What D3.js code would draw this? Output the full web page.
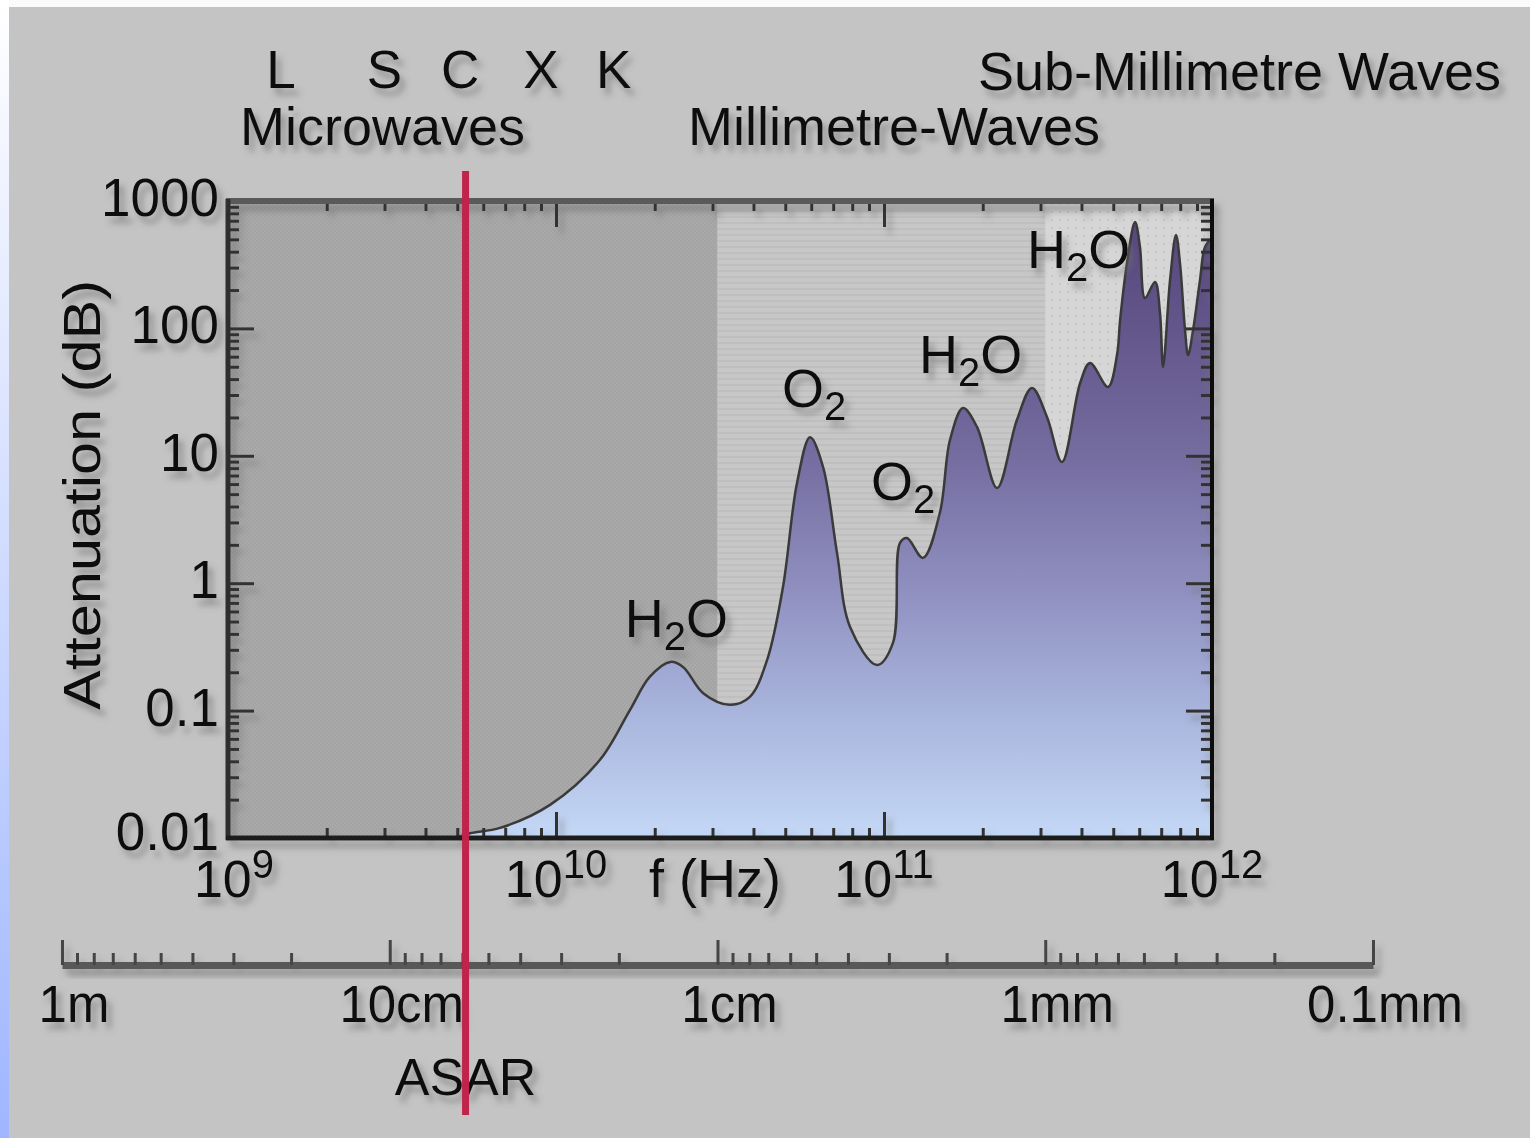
<!DOCTYPE html>
<html>
<head>
<meta charset="utf-8">
<script src="https://cdn.jsdelivr.net/npm/d3@7"></script>
<style>
body { margin: 0; background: #fff; }
svg { display: block; font-family: "Liberation Sans", Arial, sans-serif; }
</style>
</head>
<body>
<div id="chart"></div>
<script>
// attenuation curve (frequency in GHz, attenuation in dB)
var freqGHz = [5.0, 5.47, 6.75, 9.59, 13.6, 16.8, 19.3, 22.3, 24.4, 28.1, 33.9, 39.0, 44.0, 49.2,
  54.3, 59.5, 65.2, 71.9, 78.8, 95.2, 106.5, 111.9, 117.5, 131.5, 148.2, 158.9, 174.2, 192.2,
  221.2, 254.2, 282.6, 314.0, 348.9, 396.3, 424.7, 482.0, 513.3, 524.6, 550.6, 582.6, 603.1,
  624.7, 670.2, 694.2, 709.3, 745.0, 776.6, 798.6, 827.6, 845.5, 875.6, 919.3, 952.1, 1000];
var attenDB = [0.0101, 0.0109, 0.0120, 0.0182, 0.0409, 0.101, 0.184, 0.241, 0.220, 0.137, 0.111, 0.128, 0.249, 0.933,
  6.12, 14.0, 8.17, 1.73, 0.453, 0.228, 0.340, 2.07, 2.26, 1.58, 3.62, 13.3, 23.7, 16.8,
  5.59, 19.1, 34.1, 20.2, 8.94, 37.3, 53.5, 34.7, 61.8, 116, 326, 684, 435,
  173, 231, 132, 49.8, 240, 541, 326, 97.1, 61.8, 97.1, 240, 435, 513];

var yTickValues = [1000, 100, 10, 1, 0.1, 0.01];
var yTickLabels = ["1000", "100", "10", "1", "0.1", "0.01"];
var xDecades = [9, 10, 11, 12];
var wavelengthValues = [1, 0.1, 0.01, 0.001, 0.0001];   // metres
var wavelengthLabels = ["1m", "10cm", "1cm", "1mm", "0.1mm"];
var bandLetters = ["L", "S", "C", "X", "K"];
var bandFreqGHz = [1.45, 3.0, 5.1, 9.0, 15.0];
var asarGHz = 5.3;

// molecule labels: text, subscript, tail, anchor frequency (GHz), anchor dB
var molText = ["H", "O", "O", "H", "H"];
var molSub = ["2", "2", "2", "2", "2"];
var molTail = ["O", "", "", "O", "O"];
var molGHz = [16.2, 48.9, 91.3, 127.9, 272.9];
var molDB = [0.378, 24.2, 4.50, 44.7, 298];

var width = 1530, height = 1138;
var plot = {left: 228, right: 1212, top: 201, bottom: 838};

var x = d3.scaleLog().domain([1e9, 1e12]).range([plot.left, plot.right]);
var y = d3.scaleLog().domain([0.01, 1000]).range([plot.bottom, plot.top]);
var wl = d3.scaleLog().domain([1, 1e-4]).range([62, 1373]);

function isDecade(v) {
  var l = Math.log10(v);
  return Math.abs(l - Math.round(l)) < 1e-6;
}

var svg = d3.select("#chart").append("svg")
    .attr("width", width)
    .attr("height", height);

var defs = svg.append("defs");

var shadow = defs.append("filter").attr("id", "shadow")
    .attr("x", "-20%").attr("y", "-30%").attr("width", "150%").attr("height", "180%");
shadow.append("feDropShadow")
    .attr("dx", 5).attr("dy", 7).attr("stdDeviation", 3)
    .attr("flood-color", "#707070").attr("flood-opacity", 0.6);

var edge = defs.append("linearGradient").attr("id", "edge")
    .attr("x1", 0).attr("y1", 0).attr("x2", 0).attr("y2", 1);
edge.append("stop").attr("offset", 0).attr("stop-color", "#ffffff");
edge.append("stop").attr("offset", 1).attr("stop-color", "#9fb6ff");

var fill = defs.append("linearGradient").attr("id", "fill")
    .attr("gradientUnits", "userSpaceOnUse")
    .attr("x1", 0).attr("x2", 0).attr("y1", plot.bottom).attr("y2", plot.top);
[[0, "#c4d8f6"], [0.2, "#a8b4dc"], [0.4, "#8e8ebe"], [0.6, "#756ca0"], [0.8, "#63568a"], [1, "#54447a"]]
  .forEach(function(s) { fill.append("stop").attr("offset", s[0]).attr("stop-color", s[1]); });

// textures for the three wavelength bands
var p1 = defs.append("pattern").attr("id", "dark").attr("patternUnits", "userSpaceOnUse")
    .attr("width", 4).attr("height", 4);
p1.append("rect").attr("width", 4).attr("height", 4).attr("fill", "#a9a9a9");
p1.append("rect").attr("width", 2).attr("height", 2).attr("fill", "#a4a4a4");
p1.append("rect").attr("x", 2).attr("y", 2).attr("width", 2).attr("height", 2).attr("fill", "#a4a4a4");

var p2 = defs.append("pattern").attr("id", "mid").attr("patternUnits", "userSpaceOnUse")
    .attr("width", 6).attr("height", 6);
p2.append("rect").attr("width", 6).attr("height", 6).attr("fill", "#c7c7c7");
p2.append("rect").attr("width", 6).attr("height", 2).attr("fill", "#bfbfbf");

var p3 = defs.append("pattern").attr("id", "light").attr("patternUnits", "userSpaceOnUse")
    .attr("width", 8).attr("height", 8);
p3.append("rect").attr("width", 8).attr("height", 8).attr("fill", "#d6d6d6");
p3.append("rect").attr("x", 3).attr("y", 3).attr("width", 2).attr("height", 2).attr("fill", "#c6c6c6");

// page background
svg.append("rect").attr("width", width).attr("height", height).attr("fill", "#fafafa");
svg.append("rect").attr("x", 0).attr("y", 0).attr("width", 9).attr("height", height).attr("fill", "url(#edge)");
svg.append("rect").attr("x", 9).attr("y", 7).attr("width", width - 9).attr("height", height - 7).attr("fill", "#c4c4c4");

// bands inside the plot, split at 1cm and 1mm
var bands = [
  {x0: plot.left, x1: wl(0.01), fill: "url(#dark)"},
  {x0: wl(0.01), x1: wl(0.001), fill: "url(#mid)"},
  {x0: wl(0.001), x1: plot.right, fill: "url(#light)"}
];
svg.selectAll(".band")
    .data(bands)
  .enter().append("rect")
    .attr("class", "band")
    .attr("x", function(d) { return d.x0; })
    .attr("y", plot.top)
    .attr("width", function(d) { return d.x1 - d.x0; })
    .attr("height", plot.bottom - plot.top)
    .attr("fill", function(d) { return d.fill; });

var pts = freqGHz.map(function(f, i) { return [f * 1e9, attenDB[i]]; });

var area = d3.area()
    .x(function(d) { return x(d[0]); })
    .y0(plot.bottom)
    .y1(function(d) { return y(d[1]); })
    .curve(d3.curveCatmullRom.alpha(0.5));

var line = d3.line()
    .x(function(d) { return x(d[0]); })
    .y(function(d) { return y(d[1]); })
    .curve(d3.curveCatmullRom.alpha(0.5));

svg.append("path").datum(pts).attr("d", area).attr("fill", "url(#fill)");
svg.append("path").datum(pts).attr("d", line)
    .attr("fill", "none").attr("stroke", "#3a3a3a").attr("stroke-width", 2.5);

// ticks, all pointing inward
function ticks(g) {
  g.selectAll(".tick line").attr("stroke", "#333").attr("stroke-width", 3);
  g.select(".domain").remove();
}

var frame = svg.append("g").attr("filter", "url(#shadow)");

var bottomAxis = frame.append("g").attr("transform", "translate(0," + plot.bottom + ")")
    .call(d3.axisBottom(x).tickFormat("").tickSizeOuter(0)).call(ticks);
bottomAxis.selectAll(".tick line").attr("y2", function(d) { return isDecade(d) ? -26 : -10; });

var topAxis = frame.append("g").attr("transform", "translate(0," + plot.top + ")")
    .call(d3.axisTop(x).tickFormat("").tickSizeOuter(0)).call(ticks);
topAxis.selectAll(".tick line").attr("y2", function(d) { return isDecade(d) ? 26 : 10; });

var leftAxis = frame.append("g").attr("transform", "translate(" + plot.left + ",0)")
    .call(d3.axisLeft(y).tickFormat("").tickSizeOuter(0)).call(ticks);
leftAxis.selectAll(".tick line").attr("x2", function(d) { return isDecade(d) ? 26 : 11; });

var rightAxis = frame.append("g").attr("transform", "translate(" + plot.right + ",0)")
    .call(d3.axisRight(y).tickFormat("").tickSizeOuter(0)).call(ticks);
rightAxis.selectAll(".tick line").attr("x2", function(d) { return isDecade(d) ? -26 : -11; });

// frame edges
var edges = [
  {x1: plot.left - 2, y1: plot.top, x2: plot.right + 2, y2: plot.top, c: "#5a5a5a", w: 6},
  {x1: plot.left, y1: plot.top - 2, x2: plot.left, y2: plot.bottom + 2, c: "#2e2e2e", w: 5},
  {x1: plot.left - 2, y1: plot.bottom, x2: plot.right + 2, y2: plot.bottom, c: "#1e1e1e", w: 5},
  {x1: plot.right, y1: plot.top - 2, x2: plot.right, y2: plot.bottom + 2, c: "#111", w: 4}
];
frame.selectAll(".edge")
    .data(edges)
  .enter().append("line")
    .attr("x1", function(d) { return d.x1; })
    .attr("y1", function(d) { return d.y1; })
    .attr("x2", function(d) { return d.x2; })
    .attr("y2", function(d) { return d.y2; })
    .attr("stroke", function(d) { return d.c; })
    .attr("stroke-width", function(d) { return d.w; });

// wavelength axis below the plot
var wAxis = svg.append("g").attr("filter", "url(#shadow)")
    .attr("transform", "translate(0,965)")
    .call(d3.axisTop(wl).tickFormat("").tickSizeOuter(0));
wAxis.select(".domain").attr("stroke", "#595959").attr("stroke-width", 7);
wAxis.selectAll(".tick line")
    .attr("stroke", "#444").attr("stroke-width", 3)
    .attr("y2", function(d) { return isDecade(d) ? -25 : -12; });

// text
var txt = svg.append("g").attr("filter", "url(#shadow)").attr("fill", "#111");

txt.selectAll(".ylab")
    .data(yTickValues)
  .enter().append("text")
    .attr("x", plot.left - 9)
    .attr("y", function(d) { return y(d) + (d < 0.05 ? 12 : 15); })
    .attr("text-anchor", "end")
    .attr("font-size", 53)
    .text(function(d, i) { return yTickLabels[i]; });

var xl = txt.selectAll(".xlab")
    .data(xDecades)
  .enter().append("text")
    .attr("x", function(d) { return x(Math.pow(10, d)) + (d === 9 ? 6 : 0); })
    .attr("y", 897)
    .attr("text-anchor", "middle")
    .attr("font-size", 52);
xl.append("tspan").text("10");
xl.append("tspan").attr("dy", -19).attr("font-size", 40).text(function(d) { return d; });

txt.append("text").attr("x", 715).attr("y", 897).attr("text-anchor", "middle")
    .attr("font-size", 54).text("f (Hz)");

txt.append("text")
    .attr("transform", "translate(100,495) rotate(-90)")
    .attr("text-anchor", "middle")
    .attr("font-size", 52)
    .attr("textLength", 430)
    .attr("lengthAdjust", "spacingAndGlyphs")
    .text("Attenuation (dB)");

txt.selectAll(".band-letter")
    .data(bandLetters)
  .enter().append("text")
    .attr("x", function(d, i) { return x(bandFreqGHz[i] * 1e9); })
    .attr("y", 88)
    .attr("text-anchor", "middle")
    .attr("font-size", 53)
    .text(function(d) { return d; });

txt.append("text").attr("x", 240).attr("y", 145).attr("font-size", 54).text("Microwaves");
txt.append("text").attr("x", 688).attr("y", 145).attr("font-size", 54).text("Millimetre-Waves");
txt.append("text").attr("x", 978).attr("y", 90).attr("font-size", 54).text("Sub-Millimetre Waves");

txt.selectAll(".wlab")
    .data(wavelengthValues)
  .enter().append("text")
    .attr("x", function(d) { return wl(d) + 12; })
    .attr("y", 1022)
    .attr("text-anchor", "middle")
    .attr("font-size", 51)
    .text(function(d, i) { return wavelengthLabels[i]; });

var mol = txt.selectAll(".mol")
    .data(molText)
  .enter().append("text")
    .attr("x", function(d, i) { return x(molGHz[i] * 1e9); })
    .attr("y", function(d, i) { return y(molDB[i]); })
    .attr("font-size", 54);
mol.append("tspan").text(function(d) { return d; });
mol.append("tspan").attr("dy", 13).attr("font-size", 40).text(function(d, i) { return molSub[i]; });
mol.append("tspan").attr("dy", -13).text(function(d, i) { return molTail[i]; });

// ASAR marker
var ax = x(asarGHz * 1e9);
txt.append("text").attr("x", ax).attr("y", 1095).attr("text-anchor", "middle")
    .attr("font-size", 52).text("ASAR");

svg.append("line")
    .attr("x1", ax).attr("x2", ax)
    .attr("y1", 171).attr("y2", 1115)
    .attr("stroke", "#c0244a")
    .attr("stroke-width", 7);
</script>
</body>
</html>
